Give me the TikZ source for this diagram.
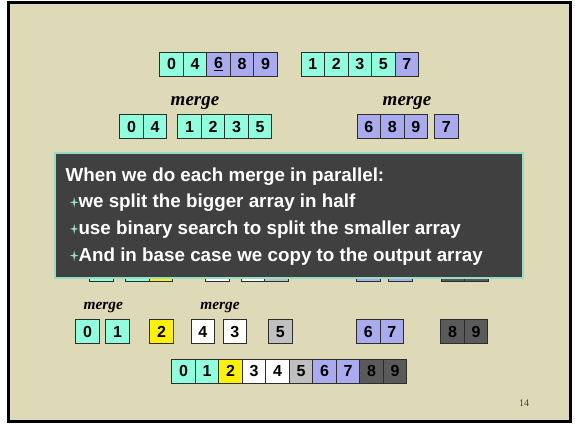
\documentclass[tikz,border=0pt]{standalone}
\usepackage{fontspec}
\setmainfont{Liberation Sans}
\newfontfamily\timesf{Liberation Serif}
\definecolor{beige}{RGB}{222,217,183}
\definecolor{aqua}{RGB}{143,255,222}
\definecolor{lav}{RGB}{170,170,238}
\definecolor{lgray}{RGB}{192,192,192}
\definecolor{dgray}{RGB}{90,90,90}
\definecolor{ovfill}{RGB}{64,64,64}
\definecolor{ovline}{RGB}{150,222,195}
\definecolor{cellline}{RGB}{45,45,45}
\tikzset{
  cell/.style={draw=cellline, line width=0.9pt, minimum width=23.5pt, minimum height=24pt,
    inner sep=0pt, font=\fontsize{16}{16}\selectfont\bfseries, anchor=west},
  ca/.style={cell, fill=aqua},
  cl/.style={cell, fill=lav},
  cy/.style={cell, fill=yellow},
  cw/.style={cell, fill=white},
  cg/.style={cell, fill=lgray},
  cd/.style={cell, fill=dgray, text=black},
  mergeA/.style={font=\timesf\fontsize{19}{19}\selectfont\bfseries\itshape, inner sep=0pt},
  mergeB/.style={font=\timesf\fontsize{15.4}{15.4}\selectfont\bfseries\itshape, inner sep=0pt},
  ovtext/.style={anchor=base west, inner sep=0pt, text=white, font=\fontsize{18.8}{18.8}\selectfont\bfseries},
  bulstar/.pic={\fill[ovline] (-4.3,0) -- (-0.9,-0.9) -- (0,-5.2) -- (0.9,-0.9) -- (4.3,0) -- (0.9,0.9) -- (0,5.2) -- (-0.9,0.9) -- cycle;},
}
\begin{document}
\begin{tikzpicture}[x=1pt,y=-1pt]
\useasboundingbox (0,0) rectangle (575,424);
\fill[white] (0,0) rectangle (575,424);
\fill[black] (7,1) rectangle (572,423);
\fill[beige] (10,3.5) rectangle (568.5,419.5);

% row 1
\node[ca] (r1a) at (159.3,64) {0};
\node[ca] (r1b) at (182.8,64) {4};
\node[cl] (r1c) at (206.3,64) {\underline{6}};
\node[cl] (r1d) at (229.8,64) {8};
\node[cl] (r1e) at (253.3,64) {9};
\node[ca] (r1f) at (300.7,64) {1};
\node[ca] (r1g) at (324.2,64) {2};
\node[ca] (r1h) at (347.7,64) {3};
\node[ca] (r1i) at (371.2,64) {5};
\node[cl] (r1j) at (394.7,64) {7};

% row 2
\node[mergeA] (m1) at (195,103) {merge};
\node[mergeA] (m2) at (407,103) {merge};
\node[ca] (r2a) at (119.3,126.7) {0};
\node[ca] (r2b) at (142.8,126.7) {4};
\node[ca] (r2c) at (177.3,126.7) {1};
\node[ca] (r2d) at (200.8,126.7) {2};
\node[ca] (r2e) at (224.3,126.7) {3};
\node[ca] (r2f) at (247.8,126.7) {5};
\node[cl] (r2g) at (356.7,126.7) {6};
\node[cl] (r2h) at (380.2,126.7) {8};
\node[cl] (r2i) at (403.7,126.7) {9};
\node[cl] (r2j) at (434,126.7) {7};

% row 3 (mostly hidden)
\node[ca] (r3a) at (89.3,269) {};
\node[ca] (r3b) at (125.3,269) {};
\node[cy] (r3c) at (148.8,269) {};
\node[cw] (r3d) at (205.3,269) {};
\node[cw] (r3e) at (240.7,269) {};
\node[cg] (r3f) at (264.2,269) {};
\node[cl] (r3g) at (356,269) {};
\node[cl] (r3h) at (388,269) {};
\node[cd] (r3i) at (440.5,269) {};
\node[cd] (r3j) at (464,269) {};

% overlay
\node[draw=ovline, line width=2pt, fill=ovfill, minimum width=467.6pt, minimum height=124.4pt,
  inner sep=0pt, anchor=north west] (ov) at (54.4,152.3) {};
\node[ovtext] (t1) at (65.4,181) {When we do each merge in parallel:};
\pic at (74.2,202.3) {bulstar};
\node[ovtext] (t2) at (78.3,207.7) {we split the bigger array in half};
\pic at (74.2,228.9) {bulstar};
\node[ovtext] (t3) at (78.3,234.3) {use binary search to split the smaller array};
\pic at (74.2,255.6) {bulstar};
\node[ovtext] (t4) at (78.3,261) {And in base case we copy to the output array};

% row 4
\node[mergeB] (m3) at (103.3,308) {merge};
\node[mergeB] (m4) at (220,308) {merge};
\node[ca] (r4a) at (75.4,331.7) {0};
\node[ca] (r4b) at (105.3,331.7) {1};
\node[cy] (r4c) at (149.3,331.7) {2};
\node[cw] (r4d) at (190.7,331.7) {4};
\node[cw] (r4e) at (222.7,331.7) {3};
\node[cg] (r4f) at (268,331.7) {5};
\node[cl] (r4g) at (356,331.7) {6};
\node[cl] (r4h) at (379.5,331.7) {7};
\node[cd] (r4i) at (440.3,331.7) {8};
\node[cd] (r4j) at (463.8,331.7) {9};

% row 5
\node[ca] (r5a) at (171.3,371.3) {0};
\node[ca] (r5b) at (194.8,371.3) {1};
\node[cy] (r5c) at (218.3,371.3) {2};
\node[cw] (r5d) at (241.8,371.3) {3};
\node[cw] (r5e) at (265.3,371.3) {4};
\node[cg] (r5f) at (288.8,371.3) {5};
\node[cl] (r5g) at (312.3,371.3) {6};
\node[cl] (r5h) at (335.8,371.3) {7};
\node[cd] (r5i) at (359.3,371.3) {8};
\node[cd] (r5j) at (382.8,371.3) {9};

\node[font=\timesf\fontsize{10}{10}\selectfont, text=black!75, inner sep=0pt] (pg) at (524,403) {14};
\end{tikzpicture}
\end{document}
